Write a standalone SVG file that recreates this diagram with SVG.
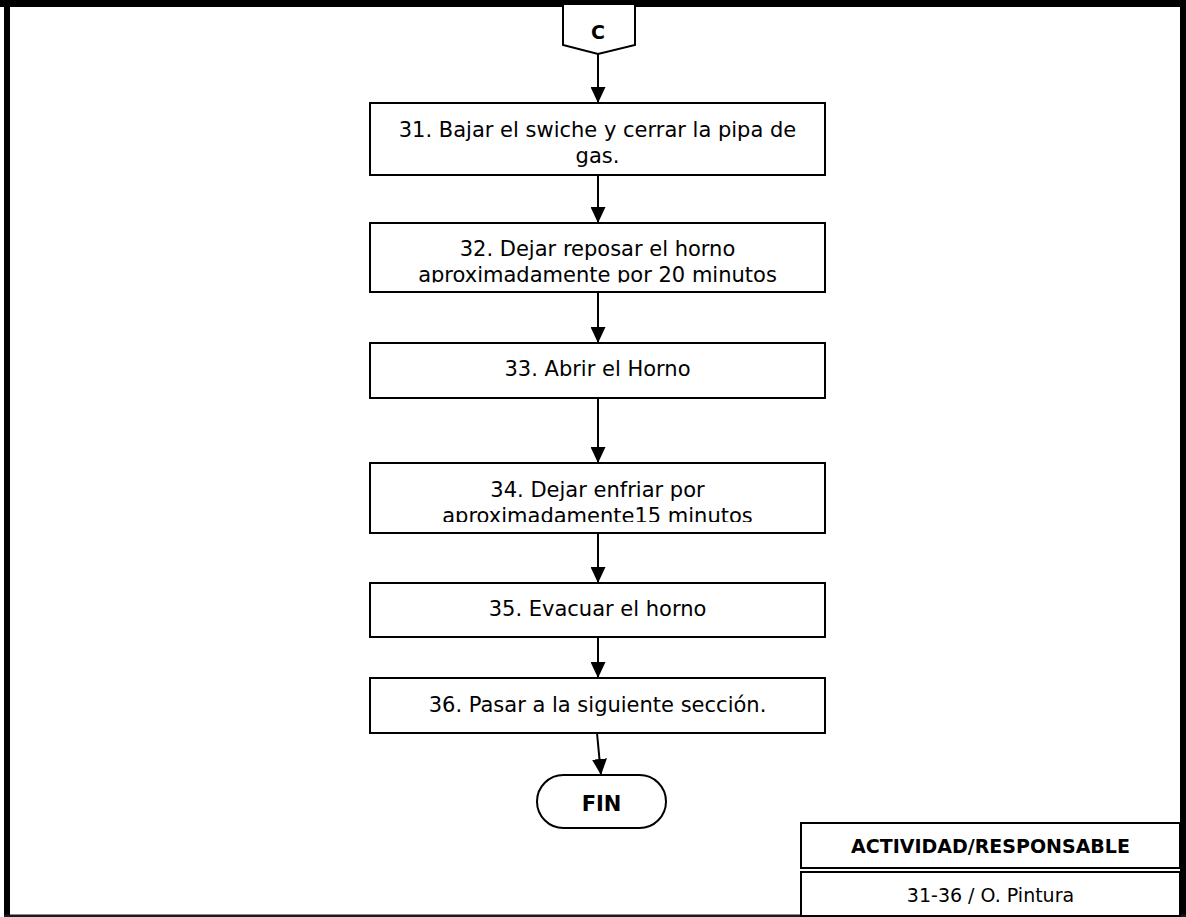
<svg xmlns="http://www.w3.org/2000/svg" width="1186" height="917" viewBox="0 0 1186 917">
  <style>
    .box { fill: #ffffff; stroke: #000000; stroke-width: 2; }
    .txt { font-family: "DejaVu Sans", Verdana, sans-serif; font-size: 21px; fill: #000000; text-anchor: middle; }
    .bold { font-weight: bold; }
    .small { font-size: 19px; }
    .link { fill: none; stroke: #000000; stroke-width: 2; marker-end: url(#arrow); }
  </style>
  <defs>
    <marker id="arrow" markerWidth="16" markerHeight="15" refX="16" refY="7.5" orient="auto" markerUnits="userSpaceOnUse">
      <path d="M0,0 L16,7.5 L0,15 Z" fill="#000000"/>
    </marker>
    <clipPath id="clip32"><rect x="370" y="223" width="455" height="59.5"/></clipPath>
    <clipPath id="clip34"><rect x="370" y="463" width="455" height="59"/></clipPath>
  </defs>

  <rect x="0" y="0" width="1186" height="917" fill="#ffffff"/>

  <!-- page frame -->
  <g id="frame">
    <rect x="0" y="0" width="1186" height="7" fill="#000000"/>
    <rect x="4" y="0" width="6" height="917" fill="#000000"/>
    <rect x="1180" y="0" width="6" height="917" fill="#000000"/>
    <rect x="4" y="914.5" width="1182" height="2.5" fill="#1a1a1a"/>
  </g>

  <!-- connectors -->
  <g id="connectors">
    <line class="link" x1="598" y1="54" x2="598" y2="103"/>
    <line class="link" x1="598" y1="175" x2="598" y2="223"/>
    <line class="link" x1="598" y1="292" x2="598" y2="343"/>
    <line class="link" x1="598" y1="398" x2="598" y2="463"/>
    <line class="link" x1="598" y1="533" x2="598" y2="583"/>
    <line class="link" x1="598" y1="637" x2="598" y2="678"/>
    <line class="link" x1="597" y1="733" x2="601" y2="775"/>
  </g>

  <!-- off-page connector C -->
  <g id="conn-c">
    <path class="box" d="M563,5 L563,45 L598,54 L635,45 L635,5"/>
    <text class="txt bold small" x="598" y="39">C</text>
  </g>

  <g id="step31">
    <rect class="box" x="370" y="103" width="455" height="72"/>
    <text class="txt" x="597.5" y="137">31. Bajar el swiche y cerrar la pipa de</text>
    <text class="txt" x="597.5" y="163">gas.</text>
  </g>

  <g id="step32">
    <rect class="box" x="370" y="223" width="455" height="69"/>
    <g clip-path="url(#clip32)">
      <text class="txt" x="597.5" y="256">32. Dejar reposar el horno</text>
      <text class="txt" x="597.5" y="282">aproximadamente por 20 minutos</text>
    </g>
  </g>

  <g id="step33">
    <rect class="box" x="370" y="343" width="455" height="55"/>
    <text class="txt" x="597.5" y="376">33. Abrir el Horno</text>
  </g>

  <g id="step34">
    <rect class="box" x="370" y="463" width="455" height="70"/>
    <g clip-path="url(#clip34)">
      <text class="txt" x="597.5" y="497">34. Dejar enfriar por</text>
      <text class="txt" x="597.5" y="523">aproximadamente15 minutos</text>
    </g>
  </g>

  <g id="step35">
    <rect class="box" x="370" y="583" width="455" height="54"/>
    <text class="txt" x="597.5" y="616">35. Evacuar el horno</text>
  </g>

  <g id="step36">
    <rect class="box" x="370" y="678" width="455" height="55"/>
    <text class="txt" x="597.5" y="712">36. Pasar a la siguiente sección.</text>
  </g>

  <g id="fin">
    <rect class="box" x="537" y="775" width="129" height="53" rx="26.5" ry="26.5"/>
    <text class="txt bold" x="601.5" y="811">FIN</text>
  </g>

  <!-- activity / owner table -->
  <g id="legend">
    <rect class="box" x="801" y="823" width="379" height="45"/>
    <rect class="box" x="801" y="872" width="379" height="44"/>
    <text class="txt bold small" x="990.5" y="853">ACTIVIDAD/RESPONSABLE</text>
    <text class="txt small" x="990.5" y="902">31-36 / O. Pintura</text>
  </g>
</svg>
